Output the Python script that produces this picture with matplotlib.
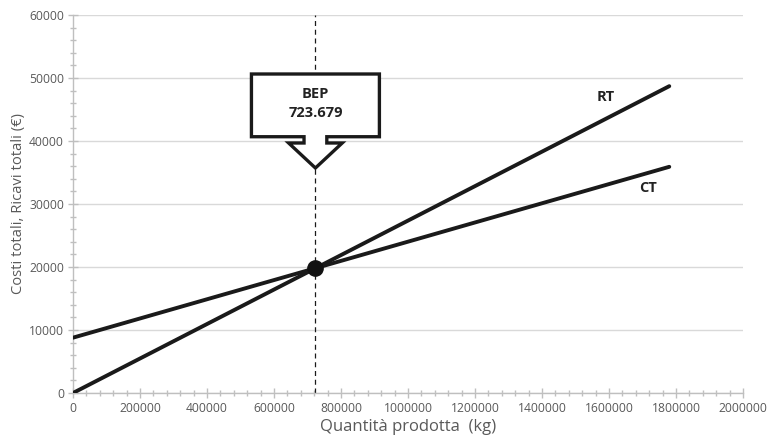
import matplotlib
matplotlib.use("Agg")
import matplotlib.pyplot as plt
from matplotlib.patches import Polygon
from matplotlib.ticker import MultipleLocator

plt.rcParams['font.family'] = ['Open Sans', 'DejaVu Sans']

# Data
quantity = [0, 1780000]
ricavi_totali = [0, 48700]      # RT
costi_totali = [8780, 35900]    # CT
bep_q = 723679
bep_label = "BEP\n723.679"
x_ticks = list(range(0, 2000001, 200000))
y_ticks = list(range(0, 60001, 10000))

# BEP value (intersection)
slope_rt = (ricavi_totali[1] - ricavi_totali[0]) / (quantity[1] - quantity[0])
bep_v = ricavi_totali[0] + slope_rt * (bep_q - quantity[0])

fig = plt.figure(figsize=(7.7, 4.43), dpi=100)
ax = fig.add_axes([0.0948, 0.1129, 0.8701, 0.8533])

ax.set_xlim(0, 2000000)
ax.set_ylim(0, 60000)
ax.set_xticks(x_ticks)
ax.set_yticks(y_ticks)
ax.xaxis.set_minor_locator(MultipleLocator(40000))
ax.yaxis.set_minor_locator(MultipleLocator(2000))

gray_txt = '#595959'
ax.grid(axis='y', which='major', color='#d9d9d9', lw=1.0, zorder=0)
ax.set_axisbelow(True)
for s in ['top', 'right']:
    ax.spines[s].set_visible(False)
for s in ['left', 'bottom']:
    ax.spines[s].set_color('#bfbfbf')
    ax.spines[s].set_linewidth(1.0)
ax.tick_params(axis='both', which='major', direction='inout', length=7, width=1,
               color='#bfbfbf', labelcolor=gray_txt, labelsize=8.7, pad=3)
ax.tick_params(axis='both', which='minor', direction='inout', length=5, width=1,
               color='#bfbfbf')
ax.set_xticklabels([str(v) for v in x_ticks])
ax.set_yticklabels([str(v) for v in y_ticks])

ax.set_xlabel("Quantità prodotta  (kg)", color=gray_txt, fontsize=12, labelpad=3)
ax.set_ylabel("Costi totali, Ricavi totali (€)", color=gray_txt, fontsize=10.6, labelpad=2)

# lines
ax.plot(quantity, ricavi_totali, color='#1a1a1a', lw=2.8, solid_capstyle='round', zorder=3)
ax.plot(quantity, costi_totali, color='#1a1a1a', lw=2.8, solid_capstyle='round', zorder=3)

# dashed vertical line
ax.axvline(bep_q, color='#1a1a1a', lw=0.9, ls=(0, (4, 3)), zorder=2)

# BEP point
ax.plot([bep_q], [bep_v], 'o', color='#111111', ms=11, zorder=5)

# labels
ax.text(1591000, 46980, "RT", fontsize=10.5, fontweight='bold', color='#222222',
        ha='center', va='center')
ax.text(1716000, 32530, "CT", fontsize=10.5, fontweight='bold', color='#222222',
        ha='center', va='center')

# callout shape
hw, nw, aw = 191000, 34000, 80000
top, bot, neck, tip = 50630, 40675, 39680, 35710
pts = [
    (bep_q - hw, top), (bep_q + hw, top), (bep_q + hw, bot), (bep_q + nw, bot),
    (bep_q + nw, neck), (bep_q + aw, neck), (bep_q, tip), (bep_q - aw, neck),
    (bep_q - nw, neck), (bep_q - nw, bot), (bep_q - hw, bot),
]
callout = Polygon(pts, closed=True, facecolor='white', edgecolor='#1a1a1a',
                  lw=2.4, joinstyle='miter', zorder=6)
ax.add_patch(callout)
ax.text(bep_q, (top + bot) / 2 + 300, bep_label, fontsize=10.5, fontweight='bold',
        color='#222222', ha='center', va='center', linespacing=1.5, zorder=7)

fig.savefig("out.png", dpi=100)
